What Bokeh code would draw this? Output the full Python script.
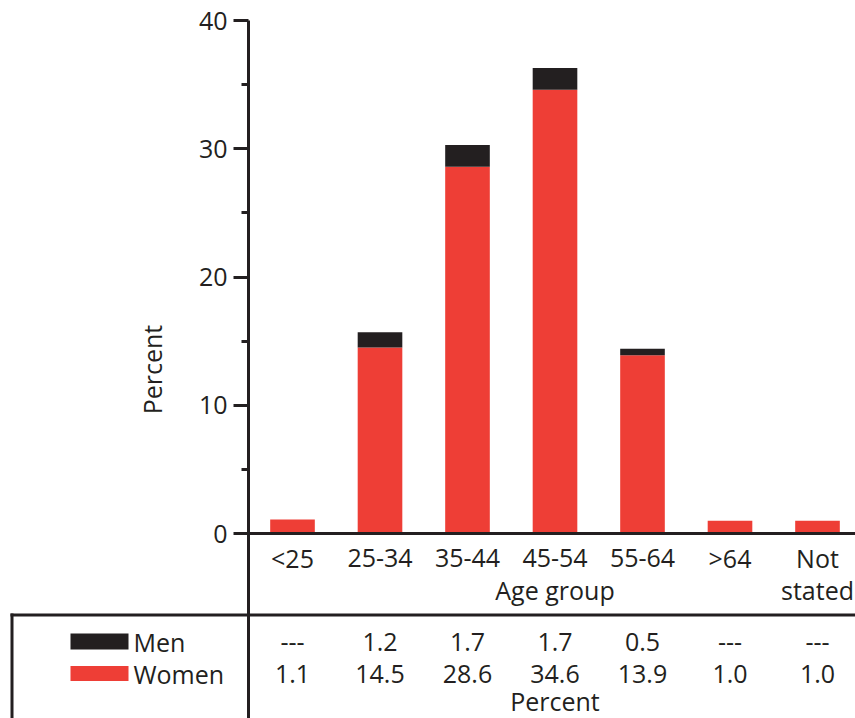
from bokeh.plotting import figure
from bokeh.models import Range1d, FixedTicker, ColumnDataSource
from bokeh.embed import file_html
from bokeh.resources import INLINE
from bokeh.core.properties import value

# ---------------- data ----------------
categories = ["<25", "25-34", "35-44", "45-54", "55-64", ">64", "Not stated"]
women = [1.1, 14.5, 28.6, 34.6, 13.9, 1.0, 1.0]
men = [None, 1.2, 1.7, 1.7, 0.5, None, None]
y_ticks = [0, 10, 20, 30, 40]
y_minor_ticks = [5, 15, 25, 35]
x_title = "Age group"
y_title = "Percent"
table_title = "Percent"
series_names = ["Men", "Women"]

# ---------------- style / layout ----------------
FONT = "Open Sans"
FS = "25px"
INK = "#231f20"
RED = "#ee3e36"
LW = 3

W = 855
H = 718
CAT_PX = 87.5          # pixels per category
FIRST_X = 292          # pixel of first category centre
AXIS_X = 248           # pixel of the vertical axis
ZERO_Y = 533           # pixel of the zero line
PX_PER_UNIT = 12.825   # pixels per percent


def xd(px):
    return (px - FIRST_X) / CAT_PX


def yd(py):
    return (ZERO_Y - py) / PX_PER_UNIT


x_start, x_end = xd(0), xd(W)
y_start, y_end = yd(H), yd(0)
axis_x = xd(AXIS_X)
axis_top = max(y_ticks)

idx = list(range(len(categories)))

p = figure(width=W, height=H, x_range=Range1d(x_start, x_end),
           y_range=Range1d(y_start, y_end), output_backend="svg",
           toolbar_location=None, x_axis_location=None, min_border=0)
p.outline_line_color = None
p.grid.visible = False

ya = p.yaxis[0]
ya.fixed_location = axis_x
ya.bounds = (y_start, axis_top)
ya.ticker = FixedTicker(ticks=y_ticks, minor_ticks=y_minor_ticks)
ya.axis_line_width = LW
ya.axis_line_color = INK
ya.major_tick_out = 15
ya.major_tick_in = 0
ya.minor_tick_out = 7
ya.minor_tick_in = 0
ya.major_tick_line_width = LW
ya.minor_tick_line_width = LW
ya.major_tick_line_color = INK
ya.minor_tick_line_color = INK
ya.major_label_text_font = FONT
ya.major_label_text_font_size = FS
ya.major_label_text_color = INK
ya.major_label_standoff = 6
ya.axis_label = y_title
ya.axis_label_text_font = FONT
ya.axis_label_text_font_size = FS
ya.axis_label_text_font_style = "normal"
ya.axis_label_text_color = INK
ya.axis_label_standoff = 27

# ---------------- bars ----------------
women_src = ColumnDataSource(dict(x=idx, top=women, bottom=[0] * len(women)))
p.vbar(x="x", top="top", bottom="bottom", width=0.51, source=women_src,
       fill_color=RED, line_color=None)

mx, mb, mt = [], [], []
for i, (w, m) in enumerate(zip(women, men)):
    if m is not None:
        mx.append(i)
        mb.append(w)
        mt.append(w + m)
men_src = ColumnDataSource(dict(x=mx, top=mt, bottom=mb))
p.vbar(x="x", top="top", bottom="bottom", width=0.51, source=men_src,
       fill_color=INK, line_color=None)

# zero line
p.segment(x0=[axis_x], y0=[0], x1=[x_end], y1=[0], line_color=INK, line_width=LW)

# ---------------- category labels ----------------
line1 = [c.split(" ")[0] for c in categories]
line2 = [" ".join(c.split(" ")[1:]) for c in categories]
txt = dict(text_baseline="middle", text_font=value(FONT), text_font_size=FS,
           text_color=INK)
p.text(x=idx, y=[yd(557)] * len(idx), text=line1, text_align="center", **txt)
p.text(x=idx, y=[yd(589)] * len(idx), text=line2, text_align="center", **txt)
p.text(x=[(len(categories) - 1) / 2], y=[yd(589)], text=[x_title],
       text_align="center", **txt)

# ---------------- table ----------------
p.segment(x0=[xd(10)], y0=[yd(614.5)], x1=[x_end], y1=[yd(614.5)],
          line_color=INK, line_width=LW)
p.segment(x0=[xd(11.5)], y0=[yd(613)], x1=[xd(11.5)], y1=[y_start],
          line_color=INK, line_width=LW)

sw_x = xd(99)
p.rect(x=[sw_x, sw_x], y=[yd(641), yd(673)], width=58, height=[16, 15],
       width_units="screen", height_units="screen",
       fill_color=[INK, RED], line_color=None)
p.text(x=[xd(133)] * 2, y=[yd(641), yd(673)], text=series_names,
       text_align="left", **txt)

men_txt = ["---" if m is None else f"{m:.1f}" for m in men]
women_txt = [f"{w:.1f}" for w in women]
p.text(x=idx, y=[yd(641)] * len(idx), text=men_txt, text_align="center", **txt)
p.text(x=idx, y=[yd(673)] * len(idx), text=women_txt, text_align="center", **txt)
p.text(x=[(len(categories) - 1) / 2], y=[yd(700)], text=[table_title],
       text_align="center", **txt)

open("out.html", "w").write(file_html(p, INLINE))
